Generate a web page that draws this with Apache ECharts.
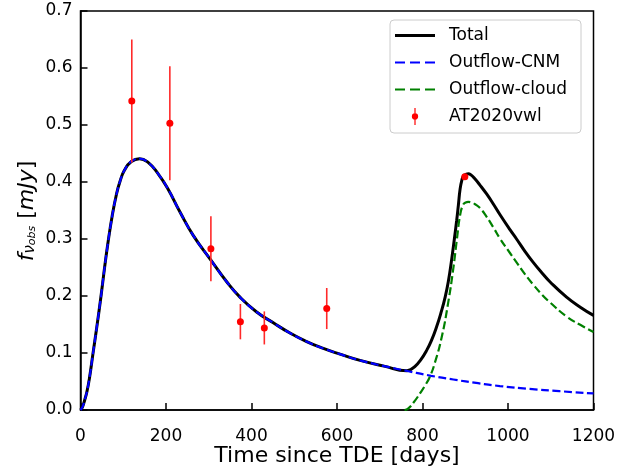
<!DOCTYPE html>
<html><head><meta charset="utf-8">
<script src="https://cdn.jsdelivr.net/npm/echarts@6/dist/echarts.min.js"></script>
<style>html,body{margin:0;padding:0;background:#fff}#c{width:644px;height:470px}</style>
</head><body><div id="c"></div>
<script>
// Observations (AT2020vwl)
const obsDays = [120, 209, 305, 374, 430, 576, 899];
const obsFlux = [0.542, 0.503, 0.283, 0.155, 0.144, 0.178, 0.409];
const obsErr  = [0.108, 0.100, 0.057, 0.031, 0.029, 0.036, 0.004];

// Outflow-CNM model curve
const cnmDays = [0,5,10,15,21,29,38,48,56,64,74,84,92,103,119,138,160,181,203,233,264,305,342,373,412,451,490,529,568,607,654,710,767,820,872,930,981,1050,1120,1200];
const cnmFlux = [0,0.006,0.018,0.032,0.056,0.098,0.145,0.2,0.248,0.292,0.34,0.378,0.4,0.421,0.436,0.441,0.433,0.415,0.39,0.347,0.306,0.263,0.225,0.198,0.172,0.153,0.135,0.12,0.108,0.098,0.087,0.077,0.068,0.06,0.0535,0.047,0.042,0.037,0.033,0.029];

// Outflow-cloud model curve
const cloudDays = [758,767,780,794,806,817,829,845,860,872,881,888,895,901,907,915,925,935,950,966,981,1005,1020,1040,1059,1080,1098,1137,1170,1200];
const cloudFlux = [0,0.003,0.014,0.029,0.043,0.058,0.083,0.128,0.188,0.248,0.303,0.342,0.36,0.364,0.365,0.364,0.36,0.354,0.339,0.32,0.301,0.275,0.259,0.238,0.22,0.202,0.189,0.164,0.149,0.137];

// Total model curve
const totalDays = [0,5,10,15,21,29,38,48,56,64,74,84,92,103,119,138,160,181,203,233,264,305,342,373,412,451,490,529,568,607,654,710,763,772,782,795,810,822,833,843,853,861,868,874,880,884,888,892,896,901,907,914,922,934,950,966,981,1005,1020,1040,1059,1080,1098,1137,1170,1200];
const totalFlux = [0,0.006,0.018,0.032,0.056,0.098,0.145,0.2,0.248,0.292,0.34,0.378,0.4,0.421,0.436,0.441,0.433,0.415,0.39,0.347,0.306,0.263,0.225,0.198,0.172,0.153,0.135,0.12,0.108,0.098,0.087,0.077,0.069,0.071,0.076,0.087,0.105,0.124,0.146,0.17,0.198,0.228,0.263,0.297,0.333,0.36,0.388,0.403,0.411,0.413,0.4145,0.412,0.406,0.395,0.379,0.361,0.343,0.316,0.3,0.278,0.259,0.24,0.225,0.198,0.18,0.166];

const xTickLabels = ['0','200','400','600','800','1000','1200'];
const yTickLabels = ['0.0','0.1','0.2','0.3','0.4','0.5','0.6','0.7'];
const seriesNames = ['Total','Outflow-CNM','Outflow-cloud','AT2020vwl'];

const zip = (a, b) => a.map((v, i) => [v, b[i]]);
const FONT = 'DejaVu Sans';
const DASH_ICON = 'path://M0 0 H10 V2.2 H0 Z M15 0 H25 V2.2 H15 Z M30 0 H40 V2.2 H30 Z';

const chart = echarts.init(document.getElementById('c'), null, {renderer: 'canvas'});
chart.setOption({
  animation: false,
  backgroundColor: '#fff',
  textStyle: {fontFamily: FONT},
  grid: {left: 80.5, right: 50.5, top: 11, bottom: 60, show: true, borderColor: '#000', borderWidth: 1.5,
    containLabel: false, outerBoundsMode: 'none'},
  xAxis: {
    type: 'value', min: 0, max: 1200, interval: 200,
    axisLine: {show: true, onZero: false, lineStyle: {color: '#000', width: 1.5}},
    axisTick: {show: true, inside: true, length: 7, lineStyle: {color: '#000', width: 1.5}},
    splitLine: {show: false},
    axisLabel: {color: '#000', fontSize: 17, fontFamily: FONT, margin: 18,
      formatter: v => xTickLabels[Math.round(v / 200)]},
    name: 'Time since TDE [days]', nameLocation: 'middle', nameGap: 35, nameMoveOverlap: false,
    nameTextStyle: {color: '#000', fontSize: 22, fontFamily: FONT}
  },
  yAxis: {
    type: 'value', min: 0, max: 0.7, interval: 0.1,
    axisLine: {show: true, onZero: false, lineStyle: {color: '#000', width: 1.5}},
    axisTick: {show: true, inside: true, length: 7, lineStyle: {color: '#000', width: 1.5}},
    splitLine: {show: false},
    axisLabel: {color: '#000', fontSize: 17, fontFamily: FONT, margin: 8,
      formatter: v => yTickLabels[Math.round(v * 10)]}
  },
  legend: {
    left: 390, top: 20, orient: 'vertical',
    data: [
      {name: 'Total', icon: 'path://M0 0 H40 V3 H0 Z'},
      {name: 'Outflow-CNM', icon: DASH_ICON},
      {name: 'Outflow-cloud', icon: DASH_ICON},
      {name: 'AT2020vwl', icon: 'path://M3.3 0 L4.7 0 L4.7 20 L3.3 20 Z M4 6.3 A3.7 3.7 0 1 1 3.99 6.3 Z', itemStyle: {color: '#ff0000', opacity: 1}}
    ],
    itemWidth: 40, itemHeight: 17, itemGap: 10,
    padding: [7, 14, 8, 5],
    borderColor: '#cccccc', borderWidth: 1, borderRadius: 4,
    backgroundColor: 'rgba(255,255,255,0.8)',
    textStyle: {color: '#000', fontSize: 17, fontFamily: FONT, lineHeight: 17, padding: [0, 0, 0, 9]}
  },
  graphic: [{
    type: 'text', x: 27, y: 211, rotation: Math.PI / 2,
    style: {
      text: '{f|f}{s|ν}{ss|obs}{n| [}{i|mJy}{n|]}',
      align: 'center', verticalAlign: 'middle', fill: '#000',
      rich: {
        f: {fontSize: 22, fontStyle: 'italic', fontFamily: FONT, lineHeight: 22, verticalAlign: 'middle', fill: '#000'},
        s: {fontSize: 15, fontStyle: 'italic', fontFamily: FONT, lineHeight: 15, verticalAlign: 'bottom', fill: '#000'},
        ss: {fontSize: 11, fontStyle: 'italic', fontFamily: FONT, lineHeight: 9, verticalAlign: 'bottom', fill: '#000'},
        n: {fontSize: 22, fontFamily: FONT, lineHeight: 22, verticalAlign: 'middle', fill: '#000'},
        i: {fontSize: 22, fontStyle: 'italic', fontFamily: FONT, lineHeight: 22, verticalAlign: 'middle', fill: '#000'}
      }
    }
  }],
  series: [
    {name: seriesNames[0], type: 'line', data: zip(totalDays, totalFlux), smooth: 0.5, symbol: 'none',
      lineStyle: {color: '#000', width: 3}, itemStyle: {color: '#000'}, z: 2},
    {name: seriesNames[1], type: 'line', data: zip(cnmDays, cnmFlux), smooth: 0.5, symbol: 'none',
      lineStyle: {color: '#0000ff', width: 2.2, type: [8, 3.5]}, itemStyle: {color: '#0000ff'}, z: 3},
    {name: seriesNames[2], type: 'line', data: zip(cloudDays, cloudFlux), smooth: 0.5, symbol: 'none',
      lineStyle: {color: '#008000', width: 2.2, type: [8, 3.5]}, itemStyle: {color: '#008000'}, z: 3},
    {name: 'err', type: 'custom', z: 4,
      data: obsDays.map((d, i) => [d, obsFlux[i] - obsErr[i], obsFlux[i] + obsErr[i]]),
      renderItem: (params, api) => {
        const lo = api.coord([api.value(0), api.value(1)]);
        const hi = api.coord([api.value(0), api.value(2)]);
        return {type: 'line', shape: {x1: lo[0], y1: lo[1], x2: hi[0], y2: hi[1]},
          style: {stroke: '#ff2a2a', lineWidth: 1.6}};
      }},
    {name: seriesNames[3], type: 'scatter', data: zip(obsDays, obsFlux), symbol: 'circle', symbolSize: 7,
      itemStyle: {color: '#ff0000', opacity: 1}, z: 5}
  ]
});
</script></body></html>
